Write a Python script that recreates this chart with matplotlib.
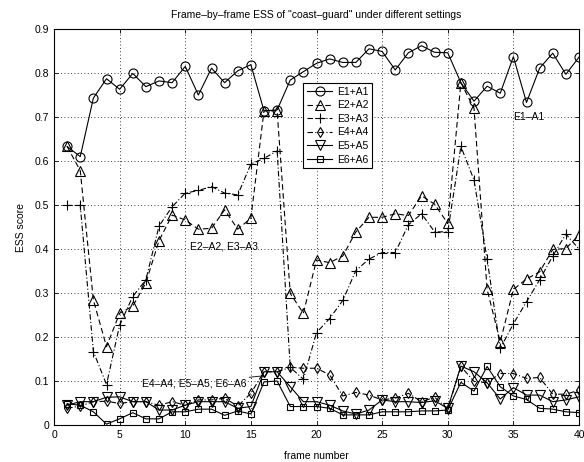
import matplotlib
matplotlib.use("Agg")
import matplotlib.pyplot as plt
import numpy as np

plt.rcParams['font.family'] = ['Liberation Sans', 'DejaVu Sans']

frames = list(range(1, 41))

e1 = [0.633, 0.610, 0.743, 0.787, 0.763, 0.799, 0.769, 0.782, 0.778, 0.815,
      0.750, 0.811, 0.778, 0.805, 0.819, 0.714, 0.716, 0.784, 0.803, 0.822,
      0.832, 0.824, 0.824, 0.855, 0.849, 0.807, 0.846, 0.862, 0.847, 0.846,
      0.778, 0.736, 0.770, 0.754, 0.837, 0.733, 0.811, 0.845, 0.797, 0.836]
e2 = [0.633, 0.578, 0.284, 0.178, 0.254, 0.270, 0.323, 0.419, 0.477, 0.466,
      0.445, 0.447, 0.489, 0.445, 0.470, 0.714, 0.714, 0.299, 0.254, 0.375,
      0.369, 0.384, 0.439, 0.472, 0.472, 0.480, 0.476, 0.521, 0.502, 0.458,
      0.778, 0.720, 0.308, 0.189, 0.308, 0.332, 0.348, 0.399, 0.401, 0.432]
e3 = [0.499, 0.499, 0.167, 0.092, 0.227, 0.292, 0.330, 0.452, 0.496, 0.527,
      0.533, 0.542, 0.527, 0.523, 0.593, 0.606, 0.623, 0.131, 0.104, 0.210,
      0.242, 0.283, 0.351, 0.377, 0.392, 0.392, 0.455, 0.480, 0.439, 0.439,
      0.633, 0.557, 0.377, 0.174, 0.230, 0.280, 0.330, 0.384, 0.434, 0.400]
e4 = [0.038, 0.043, 0.053, 0.054, 0.049, 0.053, 0.053, 0.045, 0.053, 0.045,
      0.057, 0.057, 0.061, 0.043, 0.072, 0.121, 0.121, 0.131, 0.129, 0.129,
      0.114, 0.066, 0.074, 0.068, 0.057, 0.061, 0.072, 0.053, 0.063, 0.036,
      0.133, 0.099, 0.096, 0.117, 0.117, 0.106, 0.108, 0.070, 0.070, 0.079]
e5 = [0.045, 0.053, 0.053, 0.063, 0.064, 0.053, 0.053, 0.034, 0.034, 0.045,
      0.053, 0.053, 0.053, 0.038, 0.042, 0.121, 0.121, 0.087, 0.053, 0.053,
      0.045, 0.032, 0.025, 0.034, 0.057, 0.053, 0.053, 0.051, 0.055, 0.038,
      0.134, 0.121, 0.096, 0.059, 0.085, 0.068, 0.068, 0.053, 0.057, 0.064]
e6 = [0.048, 0.045, 0.030, 0.002, 0.014, 0.028, 0.014, 0.014, 0.030, 0.030,
      0.036, 0.036, 0.022, 0.032, 0.025, 0.098, 0.100, 0.042, 0.042, 0.042,
      0.038, 0.023, 0.023, 0.023, 0.030, 0.030, 0.030, 0.032, 0.032, 0.034,
      0.097, 0.077, 0.133, 0.087, 0.066, 0.058, 0.038, 0.036, 0.030, 0.028]

labels = ['E1+A1', 'E2+A2', 'E3+A3', 'E4+A4', 'E5+A5', 'E6+A6']
series = [e1, e2, e3, e4, e5, e6]
markers = ['o', '^', '+', 'd', 'v', 's']
styles = ['-', '--', '-.', '-.', '-', '-']
msizes = [6.5, 6.5, 6.5, 5.5, 6.5, 4.5]

fig = plt.figure(figsize=(5.84, 4.62), dpi=100)
ax = fig.add_axes([54/584, 37/462, 525/584, 396/462])

for y, lab, m, ls, ms in zip(series, labels, markers, styles, msizes):
    ax.plot(frames, y, linestyle=ls, color='black', linewidth=0.8,
            marker=m, markersize=ms, markerfacecolor='none',
            markeredgecolor='black', markeredgewidth=0.8, label=lab,
            dashes=(5, 3) if ls == '--' else ((5, 2, 1, 2) if ls == '-.' else (None, None)))

ax.set_xlim(0, 40)
ax.set_ylim(0, 0.9)
ax.set_xticks(np.arange(0, 41, 5))
ax.set_yticks(np.arange(0, 0.91, 0.1))
ax.set_yticklabels(['0', '0.1', '0.2', '0.3', '0.4', '0.5', '0.6', '0.7', '0.8', '0.9'])
ax.grid(True, linestyle=(0, (1, 3)), color='black', linewidth=0.6)
ax.tick_params(direction='in', top=True, right=True, labelsize=7.5, length=3, width=0.6)
for sp in ax.spines.values():
    sp.set_linewidth(0.8)

ax.set_title('Frame\u2013by\u2013frame ESS of "coast\u2013guard" under different settings',
             fontsize=7.5, pad=8)
ax.set_xlabel('frame number', fontsize=7.5, labelpad=8)
ax.set_ylabel('ESS score', fontsize=7.5, labelpad=6)

ax.text(35.0, 0.70, 'E1\u2013A1', fontsize=7.5, ha='left', va='center')
ax.text(10.4, 0.405, 'E2\u2013A2, E3\u2013A3', fontsize=7.5, ha='left', va='center')
ax.annotate('E4\u2013A4, E5\u2013A5, E6\u2013A6', xy=(16.0, 0.112), xytext=(6.7, 0.095),
            fontsize=7.5, ha='left', va='center',
            arrowprops=dict(arrowstyle='-', color='black', lw=0.6,
                            shrinkA=0, shrinkB=0))

leg = ax.legend(loc='upper left', bbox_to_anchor=(0.475, 0.864), fontsize=7.5,
                frameon=True, fancybox=False, edgecolor='black', framealpha=1,
                handlelength=2.4, handletextpad=0.5, borderpad=0.35,
                labelspacing=0.35, borderaxespad=0)
leg.get_frame().set_linewidth(0.8)

fig.savefig('out.png', dpi=100)
